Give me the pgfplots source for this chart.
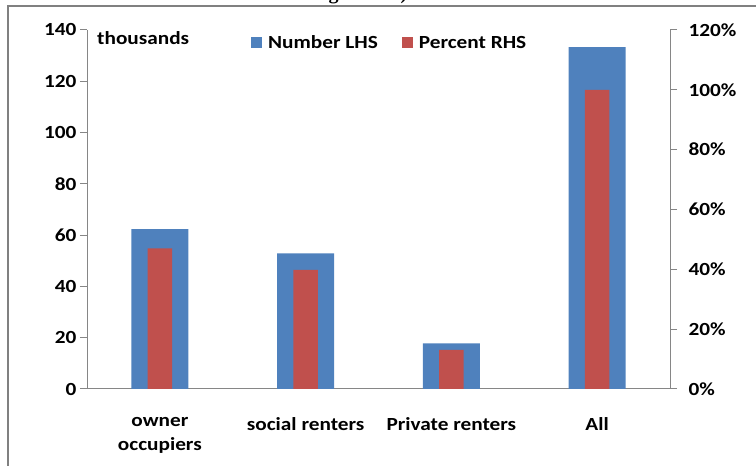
\documentclass[border=0pt]{standalone}
\usepackage{pgfplots}
\pgfplotsset{compat=1.18}
\usepackage{fontspec}
\setmainfont{Carlito}[FakeStretch=1.15]
\newfontfamily\titlefont{Liberation Serif}
\definecolor{xlblue}{HTML}{4F81BD}
\definecolor{xlred}{HTML}{C0504D}
\definecolor{axgray}{HTML}{868686}
\newcommand\cf{\fontsize{18.5}{24}\selectfont\bfseries}
\pgfplotsset{
  sq legend/.style={legend image code/.code={\fill[##1] (0pt,-5.5pt) rectangle (11pt,5.5pt);}},
}
\begin{document}
\begin{tikzpicture}[x=1pt,y=1pt]
\path[use as bounding box] (0,0) rectangle (756,466);
\draw[color=gray, line width=2pt] (8,-5) -- (8,460) -- (760,460);
\begin{scope}
\clip (0,461.5) rectangle (756,466);
\node[anchor=base, inner sep=0pt, font=\titlefont\bfseries\fontsize{20}{24}\selectfont] at (333.5,466.5) {g};
\node[anchor=base, inner sep=0pt, font=\titlefont\bfseries\fontsize{20}{24}\selectfont] at (404,466.5) {)};
\end{scope}
\begin{axis}[
  at={(87pt,77pt)}, anchor=south west,
  scale only axis, width=583pt, height=359pt,
  xmin=-0.5, xmax=3.5, ymin=0, ymax=140,
  axis x line*=bottom, axis y line*=left,
  axis line style={axgray, line width=1pt},
  tick align=outside, major tick length=7pt,
  tick style={axgray, line width=1pt},
  xtick={0,1,2,3},
  xticklabels={{owner\\occupiers},{social renters},{Private renters},{All}},
  x tick style={draw=none},
  extra x ticks={-0.5,0.5,1.5,2.5,3.5},
  extra x tick labels={},
  extra x tick style={tick style={axgray, line width=1pt}},
  xticklabel style={align=center, font=\cf, yshift=-18pt},
  ytick={0,20,...,140},
  yticklabel style={font=\cf},
  /pgf/number format/assume math mode=true,
  ybar, bar width=57pt,
  clip=false,
]
\addplot[fill=xlblue, draw=none] coordinates {(0,62.3) (1,52.9) (2,17.8) (3,133.3)};
\end{axis}
\begin{axis}[
  at={(87pt,77pt)}, anchor=south west,
  scale only axis, width=583pt, height=359pt,
  xmin=-0.5, xmax=3.5, ymin=0, ymax=120,
  axis x line=none, axis y line*=right,
  axis line style={axgray, line width=1pt},
  tick align=outside, major tick length=7pt,
  tick style={axgray, line width=1pt},
  ytick={0,20,...,120},
  yticklabel={\pgfmathprintnumber{\tick}\%},
  yticklabel style={font=\cf, xshift=8pt},
  /pgf/number format/assume math mode=true,
  ybar, bar width=24.6pt,
  legend style={at={(axis description cs:0.2813,0.9638)}, anchor=west, draw=none, fill=none, inner sep=0pt, font=\cf, legend columns=2,
    /tikz/every odd column/.append style={column sep=4pt},
    /tikz/every even column/.append style={column sep=22pt}},
  sq legend,
]
\addlegendimage{fill=xlblue, draw=none}
\addlegendentry{Number LHS}
\addplot[fill=xlred, draw=none] coordinates {(0,47.0) (1,39.8) (2,13.1) (3,100)};
\addlegendentry{Percent RHS}
\end{axis}
\node[anchor=west, inner sep=0pt, font=\cf] at (97,428) {thousands};
\end{tikzpicture}
\end{document}
